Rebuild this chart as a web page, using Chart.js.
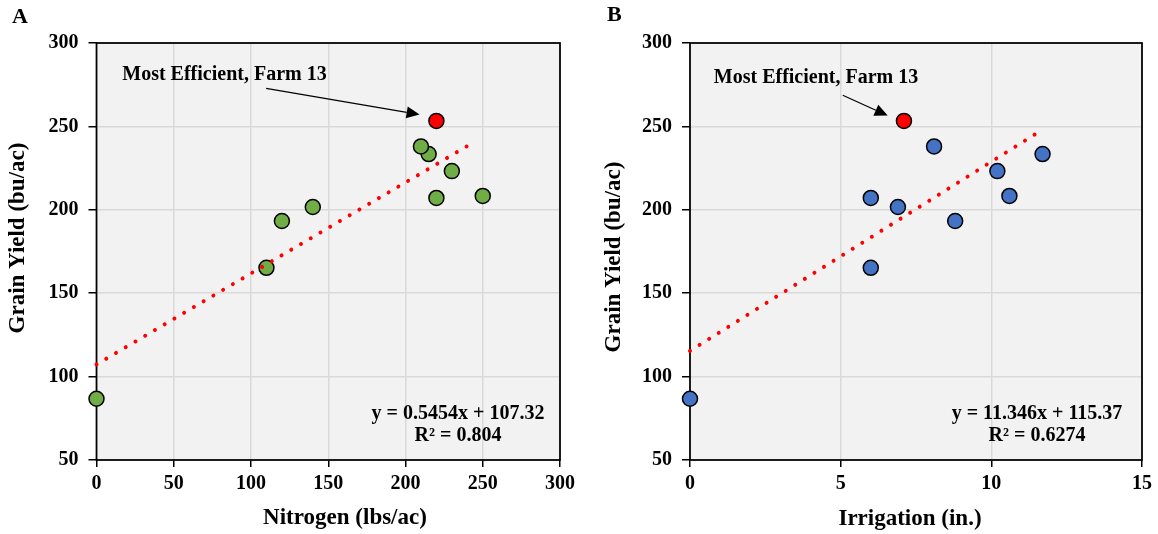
<!DOCTYPE html>
<html>
<head>
<meta charset="utf-8">
<script src="https://cdn.jsdelivr.net/npm/chart.js@4"></script>
<style>
  body { margin: 0; background: #fff; }
  #wrap { display: flex; width: 1158px; height: 534px; }
</style>
</head>
<body>
<div id="wrap">
  <canvas id="chartA" width="580" height="534"></canvas>
  <canvas id="chartB" width="578" height="534"></canvas>
</div>
<script>
// farms (same order in every array)
const grainYield = [86.7, 165.2, 193.3, 201.7, 207.1, 208.3, 223.2, 233.4, 238.0];
const nitrogen   = [0, 110, 120, 140, 220, 250, 230, 215, 210];
const irrigation = [0, 6.0, 8.8, 6.9, 6.0, 10.6, 10.2, 11.7, 8.1];

// most efficient farm (13)
const bestYield = 253.3;
const bestNitrogen = 220;
const bestIrrigation = 7.1;

// trend line end points
const trendNitrogen = [0, 244.7];
const trendYieldA = [107.3, 240.8];
const trendIrrigation = [0, 11.47];
const trendYieldB = [115.4, 245.5];

const eqA = ["y = 0.5454x + 107.32", "R\u00b2 = 0.804"];
const eqB = ["y = 11.346x + 115.37", "R\u00b2 = 0.6274"];
const noteText = "Most Efficient, Farm 13";
const yTitle = "Grain Yield (bu/ac)";

const serif = "'Liberation Serif', 'Times New Roman', serif";
Chart.defaults.font.family = serif;
Chart.defaults.font.weight = "bold";
Chart.defaults.color = "#000";

const toPoints = (xs, ys) => xs.map((v, i) => ({ x: v, y: ys[i] }));

// background, frame, titles, labels and the arrow
const decor = {
  id: "decor",
  beforeDraw(chart) {
    const { ctx, chartArea: a } = chart;
    ctx.save();
    ctx.fillStyle = "#f2f2f2";
    ctx.fillRect(a.left, a.top, a.width, a.height);
    ctx.restore();
  },
  beforeDatasetsDraw(chart) {
    const { ctx, chartArea: a } = chart;
    ctx.save();
    ctx.strokeStyle = "#000";
    ctx.lineWidth = 1.75;
    ctx.strokeRect(a.left, a.top, a.width, a.height);
    ctx.restore();
  },
  afterDraw(chart, args, opts) {
    const { ctx, chartArea: a, scales: { x, y } } = chart;
    ctx.save();
    ctx.fillStyle = "#000";
    ctx.strokeStyle = "#000";
    ctx.textBaseline = "middle";

    // panel letter
    ctx.font = "bold 22px " + serif;
    ctx.textAlign = "left";
    ctx.fillText(opts.letter, opts.letterPos[0], opts.letterPos[1]);

    // axis titles
    ctx.font = "bold 23px " + serif;
    ctx.textAlign = "center";
    ctx.fillText(opts.xTitle, opts.xTitlePos[0], opts.xTitlePos[1]);
    ctx.save();
    ctx.translate(opts.yTitlePos[0], opts.yTitlePos[1]);
    ctx.rotate(-Math.PI / 2);
    ctx.fillText(yTitle, 0, 0);
    ctx.restore();

    // note + arrow
    ctx.font = "bold 20px " + serif;
    ctx.textAlign = "left";
    ctx.fillText(noteText, x.getPixelForValue(opts.note[0]), y.getPixelForValue(opts.note[1]));
    const x0 = x.getPixelForValue(opts.arrow[0]), y0 = y.getPixelForValue(opts.arrow[1]);
    const x1 = x.getPixelForValue(opts.arrow[2]), y1 = y.getPixelForValue(opts.arrow[3]);
    const ang = Math.atan2(y1 - y0, x1 - x0);
    const len = 13, half = 6;
    const bx = x1 - len * Math.cos(ang), by = y1 - len * Math.sin(ang);
    ctx.lineWidth = 1.2;
    ctx.beginPath();
    ctx.moveTo(x0, y0);
    ctx.lineTo(bx, by);
    ctx.stroke();
    ctx.beginPath();
    ctx.moveTo(x1, y1);
    ctx.lineTo(bx + half * Math.sin(ang), by - half * Math.cos(ang));
    ctx.lineTo(bx - half * Math.sin(ang), by + half * Math.cos(ang));
    ctx.closePath();
    ctx.fill();

    // equation
    ctx.textAlign = "center";
    ctx.fillText(opts.eq[0], a.right - opts.eqOffset, a.bottom - 46);
    ctx.fillText(opts.eq[1], a.right - opts.eqOffset, a.bottom - 24);
    ctx.restore();
  }
};

function makeChart(id, cfg) {
  return new Chart(document.getElementById(id), {
    type: "scatter",
    data: {
      datasets: [
        {
          data: toPoints(cfg.xs, grainYield),
          backgroundColor: cfg.color,
          borderColor: "#000",
          borderWidth: 1.5,
          pointRadius: 7.5,
          clip: false,
          order: 2
        },
        {
          data: [{ x: cfg.bestX, y: bestYield }],
          backgroundColor: "#ff0000",
          borderColor: "#000",
          borderWidth: 1.5,
          pointRadius: 7.5,
          clip: false,
          order: 2
        },
        {
          type: "line",
          data: toPoints(cfg.trendX, cfg.trendY),
          borderColor: "#ff0000",
          borderWidth: 4,
          borderDash: [0.001, 11.3],
          borderCapStyle: "round",
          pointRadius: 0,
          fill: false,
          clip: false,
          order: 1
        }
      ]
    },
    options: {
      responsive: false,
      animation: false,
      layout: { padding: { left: 0, right: cfg.padRight, top: 43, bottom: 0 } },
      plugins: {
        legend: { display: false },
        tooltip: { enabled: false },
        decor: cfg.decor
      },
      scales: {
        x: {
          type: "linear",
          min: cfg.xMin, max: cfg.xMax,
          ticks: { stepSize: cfg.xStep, font: { size: 20 }, padding: 5, maxRotation: 0 },
          grid: { color: "#d9d9d9", lineWidth: 1.5, tickColor: "#000", tickLength: 7 },
          border: { display: false },
          afterFit: (s) => { s.height = 74; }
        },
        y: {
          min: 50, max: 300,
          ticks: { stepSize: 50, font: { size: 20 }, padding: 10 },
          grid: { color: "#d9d9d9", lineWidth: 1.5, tickColor: "#000", tickLength: 8 },
          border: { display: false },
          afterFit: (s) => { s.width = cfg.yWidth; }
        }
      }
    },
    plugins: [decor]
  });
}

makeChart("chartA", {
  xs: nitrogen, bestX: bestNitrogen, color: "#70ad47",
  trendX: trendNitrogen, trendY: trendYieldA,
  xMin: 0, xMax: 300, xStep: 50,
  padRight: 17, yWidth: 96.5,
  decor: {
    letter: "A", letterPos: [12, 17],
    xTitle: "Nitrogen (lbs/ac)", xTitlePos: [345, 518], yTitlePos: [18, 238],
    note: [16.7, 281], arrow: [109.8, 272.8, 209.1, 257.1], eq: eqA, eqOffset: 102
  }
});

makeChart("chartB", {
  xs: irrigation, bestX: bestIrrigation, color: "#4472c4",
  trendX: trendIrrigation, trendY: trendYieldB,
  xMin: 0, xMax: 15, xStep: 5,
  padRight: 16, yWidth: 110,
  decor: {
    letter: "B", letterPos: [27, 15],
    xTitle: "Irrigation (in.)", xTitlePos: [330, 519], yTitlePos: [34, 257],
    note: [0.79, 279.4], arrow: [5.07, 268.7, 6.56, 256.5], eq: eqB, eqOffset: 105
  }
});
</script>
</body>
</html>
